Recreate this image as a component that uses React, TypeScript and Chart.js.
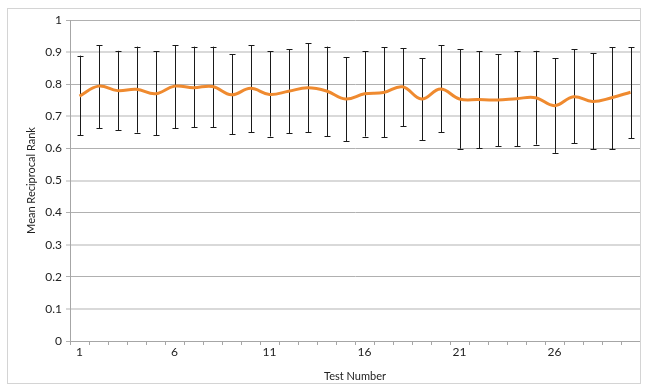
import React, { useEffect, useRef } from "react";
import { Chart, registerables } from "chart.js";

Chart.register(...registerables);

const categories = ["1","2","3","4","5","6","7","8","9","10","11","12","13","14","15","16","17","18","19","20","21","22","23","24","25","26","27","28","29","30"];
const shownXLabels = ["1", "6", "11", "16", "21", "26"];

const meanRR = [0.763,0.794,0.780,0.784,0.770,0.794,0.789,0.793,0.767,0.787,0.768,0.778,0.789,0.779,0.754,0.770,0.774,0.792,0.754,0.785,0.754,0.752,0.751,0.755,0.758,0.733,0.761,0.746,0.758,0.775];
const upperRR = [0.889,0.921,0.904,0.917,0.902,0.922,0.917,0.917,0.894,0.922,0.902,0.909,0.928,0.917,0.884,0.902,0.915,0.912,0.881,0.922,0.909,0.902,0.894,0.902,0.904,0.881,0.909,0.897,0.915,0.915];
const lowerRR = [0.641,0.662,0.656,0.649,0.641,0.662,0.666,0.666,0.644,0.650,0.637,0.647,0.650,0.638,0.622,0.637,0.634,0.669,0.626,0.650,0.599,0.600,0.606,0.606,0.612,0.586,0.616,0.597,0.597,0.631];

const FONT = "Lato, 'Open Sans', sans-serif";

const errorBarPlugin = {
  id: "errorBars",
  beforeDatasetsDraw(chart: any) {
    const { ctx, scales } = chart;
    const xs = scales.x;
    const ys = scales.y;
    ctx.save();
    ctx.strokeStyle = "#1a1a1a";
    ctx.lineWidth = 1;
    for (let i = 0; i < categories.length; i++) {
      const x = Math.round(xs.getPixelForValue(i)) + 0.5;
      const yt = ys.getPixelForValue(upperRR[i]);
      const yb = ys.getPixelForValue(lowerRR[i]);
      ctx.beginPath();
      ctx.moveTo(x, yt);
      ctx.lineTo(x, yb);
      ctx.moveTo(x - 3, Math.round(yt) + 0.5);
      ctx.lineTo(x + 3, Math.round(yt) + 0.5);
      ctx.moveTo(x - 3, Math.round(yb) + 0.5);
      ctx.lineTo(x + 3, Math.round(yb) + 0.5);
      ctx.stroke();
    }
    ctx.restore();
  },
  afterDraw(chart: any) {
    const { ctx } = chart;
    ctx.save();
    ctx.strokeStyle = "#d4d4d4";
    ctx.lineWidth = 1;
    ctx.strokeRect(7.5, 8.5, 633, 375);
    ctx.restore();
  },
};

export default function App() {
  const ref = useRef<HTMLCanvasElement | null>(null);
  useEffect(() => {
    document.body.style.margin = "0";
    const c = new Chart(ref.current as HTMLCanvasElement, {
      type: "line",
      data: {
        labels: categories,
        datasets: [
          {
            label: "Mean Reciprocal Rank",
            data: meanRR,
            borderColor: "#EF8A2F",
            borderWidth: 3,
            pointRadius: 0,
            tension: 0.4,
            fill: false,
          },
        ],
      },
      options: {
        animation: false,
        responsive: false,
        maintainAspectRatio: false,
        layout: { padding: { left: 25, right: 8, top: 20, bottom: 9 } },
        plugins: { legend: { display: false }, tooltip: { enabled: false } },
        scales: {
          x: {
            type: "category",
            offset: true,
            grid: {
              offset: true,
              drawOnChartArea: false,
              drawTicks: true,
              tickLength: 4,
              color: "#a6a6a6",
            },
            border: { color: "#a6a6a6" },
            ticks: {
              autoSkip: false,
              maxRotation: 0,
              color: "#222",
              font: { family: FONT, size: 12 },
              padding: 0,
              callback: (v: any, i: number) => (shownXLabels.includes(categories[i]) ? categories[i] : ""),
            },
            title: {
              display: true,
              text: "Test Number",
              color: "#222",
              font: { family: FONT, size: 11 },
              padding: { top: 4, bottom: 0 },
            },
            afterFit: (s: any) => {
              s.height = 42;
            },
          },
          y: {
            min: 0,
            max: 1,
            ticks: {
              stepSize: 0.1,
              color: "#222",
              font: { family: FONT, size: 12 },
              padding: 4,
              callback: (v: any) => String(Number(Number(v).toFixed(1))),
            },
            grid: {
              drawTicks: true,
              tickLength: 4,
              color: (ctx: any) => {
                const t = Math.round((ctx.tick?.value ?? 0) * 10);
                return t % 2 === 1 ? "#d9d9d9" : "#b0b0b0";
              },
              lineWidth: (ctx: any) => {
                const t = Math.round((ctx.tick?.value ?? 0) * 10);
                return t % 2 === 1 ? 2 : 1;
              },
            },
            border: { color: "#a6a6a6" },
            title: {
              display: true,
              text: "Mean Reciprocal Rank",
              color: "#222",
              font: { family: FONT, size: 11 },
              padding: { top: 0, bottom: 6 },
            },
            afterFit: (s: any) => {
              s.width = 45;
            },
          },
        },
      },
      plugins: [errorBarPlugin],
    });
    return () => c.destroy();
  }, []);
  return (
    <div style={{ width: 648, height: 392 }}>
      <canvas ref={ref} width={648} height={392} style={{ display: "block" }} />
    </div>
  );
}
